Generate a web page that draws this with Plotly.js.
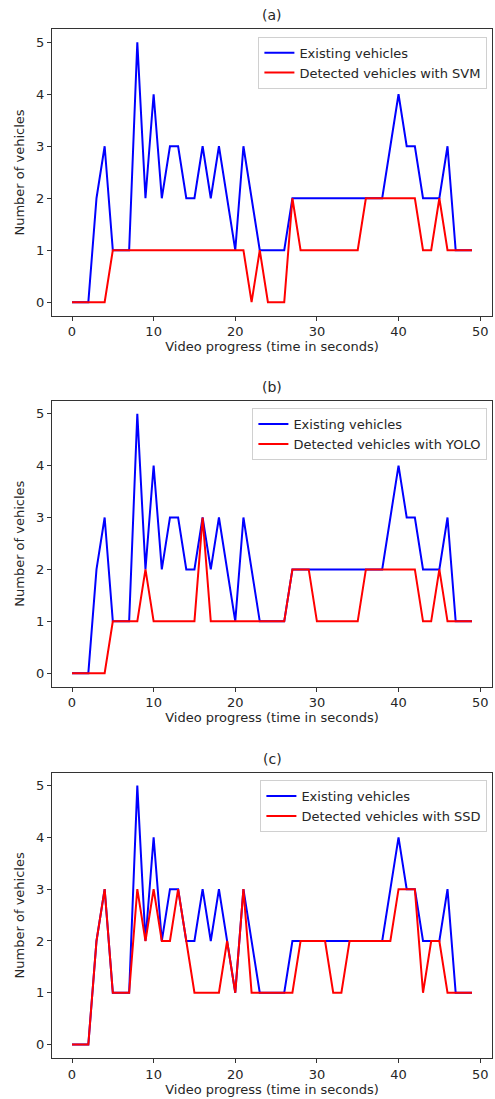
<!DOCTYPE html>
<html>
<head>
<meta charset="utf-8">
<script src="https://cdn.plot.ly/plotly-3.0.1.min.js"></script>
<style>html,body{margin:0;padding:0;background:#fff;}#chart{width:495px;height:1099px;}</style>
</head>
<body>
<div id="chart"></div>
<script>
// ---- Data ----
const seconds = [0,1,2,3,4,5,6,7,8,9,10,11,12,13,14,15,16,17,18,19,20,21,22,23,24,25,26,27,28,29,30,31,32,33,34,35,36,37,38,39,40,41,42,43,44,45,46,47,48,49];
const existingVehicles = [0,0,0,2,3,1,1,1,5,2, 4,2,3,3,2,2,3,2,3,2, 1,3,2,1,1,1,1,2,2,2, 2,2,2,2,2,2,2,2,2,3, 4,3,3,2,2,2,3,1,1,1];
const detectedSVM  = [0,0,0,0,0,1,1,1,1,1, 1,1,1,1,1,1,1,1,1,1, 1,1,0,1,0,0,0,2,1,1, 1,1,1,1,1,1,2,2,2,2, 2,2,2,1,1,2,1,1,1,1];
const detectedYOLO = [0,0,0,0,0,1,1,1,1,2, 1,1,1,1,1,1,3,1,1,1, 1,1,1,1,1,1,1,2,2,2, 1,1,1,1,1,1,2,2,2,2, 2,2,2,1,1,2,1,1,1,1];
const detectedSSD  = [0,0,0,2,3,1,1,1,3,2, 3,2,2,3,2,1,1,1,1,2, 1,3,1,1,1,1,1,1,2,2, 2,2,1,1,2,2,2,2,2,2, 3,3,3,1,2,2,1,1,1,1];
const panelTitles = ["(a)", "(b)", "(c)"];
const detectedNames = ["Detected vehicles with SVM", "Detected vehicles with YOLO", "Detected vehicles with SSD"];
const existingName = "Existing vehicles";
const xTitle = "Video progress (time in seconds)";
const yTitle = "Number of vehicles";

// ---- Layout geometry (pixels) ----
const W = 495, H = 1099;
const M = {l: 52, r: 3, t: 29, b: 41};
const plotH = H - M.t - M.b;
const plotW = W - M.l - M.r;
const panelPx = [[29.3, 315.7], [400.7, 686.7], [772.7, 1058.3]];
const toPaperY = y => (H - M.b - y) / plotH;

const font = "DejaVu Sans, Arial, sans-serif";
const textColor = "#262626";
const detectedSeries = [detectedSVM, detectedYOLO, detectedSSD];

const traces = [];
const layout = {
  width: W, height: H,
  margin: M,
  paper_bgcolor: "#fff", plot_bgcolor: "#fff",
  font: {family: font, size: 13, color: textColor},
  showlegend: true,
  annotations: []
};

for (let i = 0; i < 3; i++) {
  const sfx = i === 0 ? "" : String(i + 1);
  const legendName = "legend" + sfx;
  const top = toPaperY(panelPx[i][0]);
  const bot = toPaperY(panelPx[i][1]);
  traces.push({
    x: seconds, y: existingVehicles, type: "scatter", mode: "lines",
    name: existingName, line: {color: "#0000ff", width: 2},
    xaxis: "x" + sfx, yaxis: "y" + sfx, legend: legendName
  });
  traces.push({
    x: seconds, y: detectedSeries[i], type: "scatter", mode: "lines",
    name: detectedNames[i], line: {color: "#ff0000", width: 2},
    xaxis: "x" + sfx, yaxis: "y" + sfx, legend: legendName
  });
  const axCommon = {
    showline: true, mirror: true, linecolor: "#333", linewidth: 1,
    ticks: "outside", ticklen: 4, tickcolor: "#333", tickwidth: 1,
    showgrid: false, zeroline: false,
    tickfont: {family: font, size: 13, color: textColor}
  };
  layout["xaxis" + sfx] = Object.assign({}, axCommon, {
    domain: [0, 1], anchor: "y" + sfx,
    range: [-2.45, 51.45], tickvals: [0, 10, 20, 30, 40, 50],
    title: {text: xTitle, font: {family: font, size: 13, color: textColor}, standoff: 3}
  });
  layout["yaxis" + sfx] = Object.assign({}, axCommon, {
    domain: [bot, top], anchor: "x" + sfx,
    range: [-0.26, 5.25], tickvals: [0, 1, 2, 3, 4, 5],
    title: {text: yTitle, font: {family: font, size: 13, color: textColor}, standoff: 8}
  });
  layout[legendName] = {
    x: 1 - 4.6 / plotW, y: top - 7.4 / plotH, xanchor: "right", yanchor: "top",
    bgcolor: "rgba(255,255,255,0.85)", bordercolor: "#d0d0d0", borderwidth: 1,
    font: {family: font, size: 13, color: textColor}, tracegroupgap: 0
  };
  layout.annotations.push({
    text: panelTitles[i], xref: "paper", yref: "paper", x: 0.5, y: top,
    xanchor: "center", yanchor: "bottom", yshift: 4, showarrow: false,
    font: {family: font, size: 14, color: textColor}
  });
}

Plotly.newPlot("chart", traces, layout, {displayModeBar: false, staticPlot: true});
</script>
</body>
</html>
